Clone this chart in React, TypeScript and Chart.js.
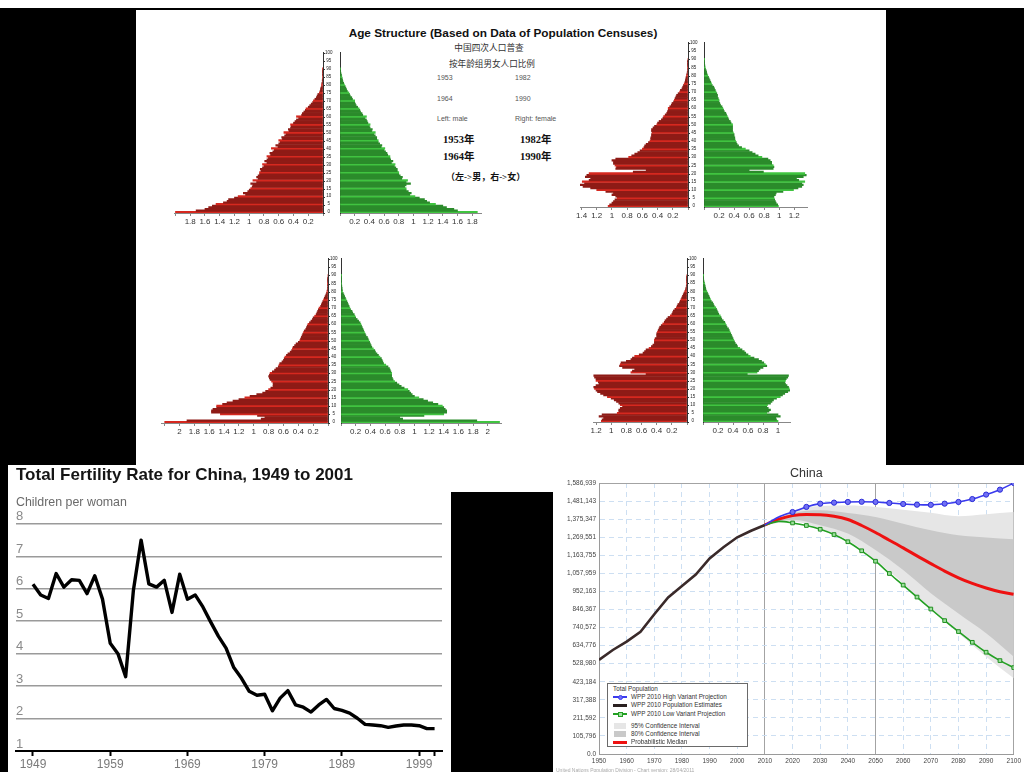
import React, { useEffect, useRef } from "react";
import { Chart, registerables } from "chart.js";

Chart.register(...registerables);

const SANS = '"Liberation Sans", Arial, sans-serif';
const CJK = '"Noto Sans CJK SC", sans-serif';
const SERIF_CJK = '"Liberation Serif", "Noto Sans CJK SC", serif';
Chart.defaults.font.family = SANS;

// ---------- Population pyramids (% of total population per single year of age, ages 0..90) ----------
const AGE_LABELS = Array.from({ length: 101 }, (_, i) => String(i));

const MALE_1953 = [
  2.0, 1.72, 1.6, 1.55, 1.5, 1.45, 1.35, 1.3, 1.28, 1.2,
  1.15, 1.05, 1.08, 1.02, 1.0, 0.98, 0.96, 0.95, 0.98, 0.9,
  0.95, 0.88, 0.9, 0.88, 0.86, 0.86, 0.84, 0.85, 0.82, 0.8,
  0.82, 0.76, 0.79, 0.76, 0.74, 0.76, 0.71, 0.72, 0.68, 0.66,
  0.7, 0.61, 0.64, 0.6, 0.58, 0.6, 0.55, 0.56, 0.52, 0.5,
  0.53, 0.46, 0.47, 0.44, 0.43, 0.44, 0.4, 0.38, 0.36, 0.33,
  0.36, 0.29, 0.28, 0.26, 0.24, 0.23, 0.2, 0.18, 0.16, 0.14,
  0.13, 0.11, 0.09, 0.08, 0.07, 0.05, 0.04, 0.035, 0.03, 0.02,
  0.02, 0.015, 0.01, 0.01, 0.008, 0.006, 0.005, 0.004, 0.003, 0.002, 0.001,
];
const FEMALE_1953 = [
  1.87, 1.6, 1.55, 1.45, 1.4, 1.3, 1.22, 1.18, 1.15, 1.08,
  1.02, 0.95, 0.97, 0.93, 0.9, 0.9, 0.88, 0.9, 0.96, 0.9,
  0.92, 0.84, 0.85, 0.82, 0.8, 0.8, 0.78, 0.78, 0.76, 0.74,
  0.75, 0.7, 0.72, 0.69, 0.68, 0.68, 0.65, 0.64, 0.62, 0.6,
  0.61, 0.56, 0.57, 0.54, 0.52, 0.52, 0.5, 0.5, 0.48, 0.46,
  0.48, 0.43, 0.44, 0.41, 0.4, 0.41, 0.38, 0.37, 0.36, 0.34,
  0.36, 0.31, 0.3, 0.28, 0.27, 0.26, 0.24, 0.22, 0.21, 0.2,
  0.2, 0.17, 0.16, 0.14, 0.13, 0.12, 0.1, 0.09, 0.08, 0.07,
  0.06, 0.05, 0.04, 0.035, 0.03, 0.025, 0.02, 0.015, 0.01, 0.008, 0.005,
];
const MALE_1982 = [
  1.05, 1.03, 1.0, 0.98, 0.96, 0.93, 0.95, 1.0, 0.98, 1.08,
  1.2, 1.28, 1.38, 1.42, 1.36, 1.39, 1.3, 1.28, 1.35, 1.33,
  1.3, 0.72, 0.55, 0.95, 0.94, 0.96, 0.98, 0.98, 1.0, 0.95,
  0.78, 0.74, 0.7, 0.66, 0.63, 0.6, 0.58, 0.57, 0.55, 0.52,
  0.5, 0.49, 0.49, 0.48, 0.48, 0.47, 0.48, 0.48, 0.46, 0.44,
  0.41, 0.4, 0.38, 0.35, 0.33, 0.32, 0.3, 0.28, 0.27, 0.26,
  0.26, 0.24, 0.22, 0.21, 0.19, 0.18, 0.17, 0.16, 0.15, 0.13,
  0.11, 0.1, 0.08, 0.07, 0.06, 0.05, 0.04, 0.035, 0.03, 0.025,
  0.02, 0.015, 0.01, 0.008, 0.006, 0.005, 0.004, 0.003, 0.002, 0.001, 0,
];
const FEMALE_1982 = [
  0.99, 0.98, 0.96, 0.95, 0.94, 0.93, 0.93, 0.95, 0.96, 1.05,
  1.19, 1.25, 1.3, 1.32, 1.3, 1.34, 1.26, 1.23, 1.32, 1.36,
  1.34, 0.79, 0.6, 0.92, 0.93, 0.92, 0.9, 0.9, 0.88, 0.85,
  0.77, 0.72, 0.68, 0.64, 0.6, 0.55, 0.5, 0.46, 0.44, 0.43,
  0.42, 0.41, 0.41, 0.4, 0.4, 0.39, 0.38, 0.38, 0.38, 0.38,
  0.38, 0.36, 0.35, 0.33, 0.32, 0.31, 0.3, 0.29, 0.27, 0.26,
  0.25, 0.24, 0.22, 0.21, 0.2, 0.2, 0.19, 0.18, 0.18, 0.17,
  0.16, 0.15, 0.14, 0.13, 0.11, 0.1, 0.09, 0.08, 0.07, 0.06,
  0.05, 0.04, 0.035, 0.03, 0.02, 0.015, 0.012, 0.009, 0.006, 0.004, 0.002,
];
const MALE_1964 = [
  2.2, 1.9, 0.9, 0.85, 0.95, 1.45, 1.57, 1.57, 1.55, 1.5,
  1.5, 1.42, 1.36, 1.28, 1.2, 1.12, 1.05, 0.96, 0.88, 0.84,
  0.8, 0.77, 0.74, 0.74, 0.74, 0.76, 0.78, 0.79, 0.8, 0.79,
  0.78, 0.75, 0.72, 0.7, 0.67, 0.66, 0.65, 0.62, 0.6, 0.59,
  0.58, 0.56, 0.54, 0.51, 0.49, 0.48, 0.47, 0.45, 0.43, 0.4,
  0.38, 0.37, 0.36, 0.35, 0.34, 0.33, 0.32, 0.3, 0.29, 0.28,
  0.27, 0.25, 0.23, 0.21, 0.2, 0.18, 0.16, 0.15, 0.14, 0.13,
  0.12, 0.1, 0.09, 0.08, 0.07, 0.06, 0.05, 0.04, 0.03, 0.02,
  0.015, 0.01, 0.008, 0.006, 0.005, 0.004, 0.003, 0.002, 0.001, 0, 0,
];
const FEMALE_1964 = [
  2.16, 1.85, 0.84, 0.8, 1.13, 1.4, 1.44, 1.44, 1.42, 1.4,
  1.38, 1.32, 1.25, 1.18, 1.12, 1.06, 1.0, 0.97, 0.95, 0.93,
  0.91, 0.86, 0.82, 0.79, 0.76, 0.73, 0.71, 0.7, 0.69, 0.69,
  0.69, 0.68, 0.67, 0.66, 0.64, 0.61, 0.58, 0.57, 0.56, 0.55,
  0.53, 0.51, 0.49, 0.47, 0.46, 0.44, 0.42, 0.41, 0.4, 0.39,
  0.38, 0.37, 0.36, 0.34, 0.33, 0.32, 0.31, 0.3, 0.29, 0.28,
  0.27, 0.26, 0.24, 0.22, 0.2, 0.19, 0.18, 0.16, 0.15, 0.13,
  0.12, 0.11, 0.1, 0.09, 0.08, 0.07, 0.06, 0.05, 0.04, 0.03,
  0.02, 0.018, 0.015, 0.012, 0.01, 0.008, 0.006, 0.004, 0.003, 0.002, 0.001,
];
const MALE_1990 = [
  1.13, 1.12, 1.1, 1.16, 1.12, 0.92, 0.9, 0.9, 0.88, 0.85,
  0.88, 0.9, 0.93, 0.96, 1.0, 1.05, 1.1, 1.14, 1.18, 1.2,
  1.22, 1.23, 1.2, 1.16, 1.17, 1.2, 1.2, 1.22, 1.23, 0.54,
  0.74, 0.72, 0.69, 0.85, 0.89, 0.88, 0.87, 0.8, 0.74, 0.72,
  0.69, 0.63, 0.58, 0.56, 0.54, 0.5, 0.47, 0.45, 0.43, 0.43,
  0.43, 0.42, 0.4, 0.4, 0.4, 0.39, 0.38, 0.37, 0.36, 0.34,
  0.32, 0.3, 0.29, 0.27, 0.25, 0.22, 0.2, 0.19, 0.18, 0.16,
  0.14, 0.13, 0.12, 0.1, 0.09, 0.08, 0.07, 0.06, 0.05, 0.04,
  0.03, 0.02, 0.015, 0.01, 0.008, 0.006, 0.004, 0.003, 0.002, 0.001, 0,
];
const FEMALE_1990 = [
  1.0, 0.98, 0.97, 1.03, 1.0, 0.85, 0.88, 0.9, 0.87, 0.85,
  0.86, 0.9, 0.92, 0.94, 0.98, 1.03, 1.06, 1.09, 1.13, 1.16,
  1.15, 1.14, 1.12, 1.1, 1.09, 1.1, 1.11, 1.13, 1.14, 0.59,
  0.72, 0.74, 0.76, 0.8, 0.85, 0.83, 0.81, 0.78, 0.74, 0.68,
  0.63, 0.6, 0.57, 0.55, 0.52, 0.49, 0.46, 0.45, 0.43, 0.42,
  0.41, 0.4, 0.39, 0.38, 0.37, 0.36, 0.35, 0.34, 0.32, 0.31,
  0.3, 0.29, 0.27, 0.25, 0.24, 0.23, 0.21, 0.2, 0.19, 0.18,
  0.17, 0.15, 0.14, 0.13, 0.11, 0.1, 0.09, 0.08, 0.07, 0.06,
  0.05, 0.04, 0.035, 0.03, 0.025, 0.02, 0.015, 0.01, 0.007, 0.005, 0.003,
];

// ---------- Total fertility rate ----------
const TFR_YEARS = Array.from({ length: 53 }, (_, i) => 1949 + i);
const TFR_VALUES = [
  6.14, 5.81, 5.7, 6.47, 6.05, 6.28, 6.26, 5.85, 6.4, 5.68,
  4.32, 4.0, 3.29, 5.95, 7.5, 6.15, 6.05, 6.26, 5.27, 6.45,
  5.68, 5.81, 5.44, 4.98, 4.54, 4.17, 3.57, 3.24, 2.84, 2.72,
  2.75, 2.24, 2.63, 2.86, 2.42, 2.35, 2.2, 2.42, 2.59, 2.31,
  2.25, 2.17, 2.01, 1.82, 1.8, 1.78, 1.73, 1.77, 1.8, 1.8,
  1.78, 1.69, 1.69,
];
const TFR_TICKS = [1949, 1959, 1969, 1979, 1989, 1999, 2001];
const TFR_TICK_LABELS = ["1949", "1959", "1969", "1979", "1989", "1999", ""];

// ---------- China total population (thousands) ----------
const EST_YEARS = [1950, 1955, 1960, 1965, 1970, 1975, 1980, 1985, 1990, 1995, 2000, 2005, 2010];
const EST_VALUES = [550771, 609005, 658270, 715185, 818315, 916395, 983171, 1051040, 1145195, 1211213, 1269117, 1307593, 1341335];
const PROJ_YEARS = [2010, 2015, 2020, 2025, 2030, 2035, 2040, 2045, 2050, 2055, 2060, 2065, 2070, 2075, 2080, 2085, 2090, 2095, 2100];
const HIGH_VALUES = [1341335, 1388000, 1417000, 1447000, 1466000, 1472000, 1476000, 1477000, 1476000, 1470000, 1464000, 1460000, 1459000, 1466000, 1476000, 1493000, 1519000, 1548000, 1587000];
const LOW_VALUES = [1341335, 1362000, 1353000, 1338000, 1316000, 1285000, 1243000, 1190000, 1129000, 1057000, 989000, 919000, 849000, 781000, 717000, 654000, 596000, 547000, 506000];
const MEDIAN_VALUES = [1341335, 1375000, 1396000, 1402000, 1401000, 1392000, 1373000, 1338000, 1297000, 1252000, 1207000, 1160000, 1115000, 1071000, 1032000, 999000, 972000, 950000, 935000];
const CI_YEARS = [2010, 2020, 2030, 2040, 2050, 2060, 2070, 2080, 2090, 2100];
const CI95_UPPER = [1341335, 1425000, 1452000, 1455000, 1447000, 1431000, 1412000, 1392000, 1404000, 1417000];
const CI80_UPPER = [1341335, 1410000, 1427000, 1411000, 1388000, 1349000, 1310000, 1281000, 1268000, 1258000];
const CI80_LOWER = [1341335, 1372000, 1340000, 1291000, 1194000, 1077000, 941000, 823000, 707000, 570000];
const CI95_LOWER = [1341335, 1362000, 1320000, 1252000, 1135000, 999000, 843000, 707000, 570000, 443000];
const POP_TICK_LABELS = ["0.0", "105,796", "211,592", "317,388", "423,184", "528,980", "634,776", "740,572", "846,367", "952,163", "1,057,959", "1,163,755", "1,269,551", "1,375,347", "1,481,143", "1,586,939"];

// ---------- layout of pyramids ----------
const PYRAMIDS = [
  { male: MALE_1953, female: FEMALE_1953, zeroM: 323, zeroF: 339, scale: 74, maxM: 2.02, maxF: 1.92, labelMaxM: 1.8, labelMaxF: 1.8, top: 52, bottom: 213 },
  { male: MALE_1982, female: FEMALE_1982, zeroM: 688, zeroF: 703, scale: 76, maxM: 1.42, maxF: 1.37, labelMaxM: 1.4, labelMaxF: 1.2, top: 42, bottom: 207 },
  { male: MALE_1964, female: FEMALE_1964, zeroM: 327, zeroF: 340, scale: 74, maxM: 2.25, maxF: 2.18, labelMaxM: 2.0, labelMaxF: 2.0, top: 258, bottom: 423 },
  { male: MALE_1990, female: FEMALE_1990, zeroM: 687, zeroF: 702, scale: 76, maxM: 1.24, maxF: 1.16, labelMaxM: 1.2, labelMaxF: 1.0, top: 258, bottom: 422 },
];

const RED_DARK = "#8e1b16";
const RED_LIGHT = "#d6281f";
const GREEN_DARK = "#2b8b2b";
const GREEN_LIGHT = "#40c440";
const PAD_SIDE = 12;
const PAD_TOP = 4;
const X_AXIS_H = 14;

function ChartCanvas({ left, top, width, height, make }: any) {
  const ref = useRef<HTMLCanvasElement>(null);
  useEffect(() => {
    const chart = new Chart(ref.current as HTMLCanvasElement, make());
    return () => chart.destroy();
  }, []);
  return (
    <canvas
      ref={ref}
      width={width}
      height={height}
      style={{ position: "absolute", left, top, width, height }}
    />
  );
}

function pyramidHalfConfig(p: any, male: boolean): any {
  const values = male ? p.male : p.female;
  const max = male ? p.maxM : p.maxF;
  const labelMax = male ? p.labelMaxM : p.labelMaxF;
  const gap = p.zeroF - p.zeroM;
  return {
    type: "bar",
    data: {
      labels: AGE_LABELS,
      datasets: [
        {
          data: values,
          backgroundColor: (c: any) =>
            c.dataIndex % 5 === 0 ? (male ? RED_LIGHT : GREEN_LIGHT) : male ? RED_DARK : GREEN_DARK,
          borderWidth: 0,
          barPercentage: 1,
          categoryPercentage: 1,
        },
      ],
    },
    options: {
      indexAxis: "y",
      responsive: false,
      animation: false,
      events: [],
      layout: {
        padding: male
          ? { left: PAD_SIDE, right: 0, top: PAD_TOP, bottom: 0 }
          : { left: 0, right: PAD_SIDE, top: PAD_TOP, bottom: 0 },
      },
      plugins: { legend: { display: false }, tooltip: { enabled: false } },
      scales: {
        x: {
          type: "linear",
          reverse: male,
          min: 0,
          max,
          ticks: {
            stepSize: 0.2,
            includeBounds: false,
            autoSkip: false,
            maxRotation: 0,
            padding: 1,
            color: "#333",
            font: { family: SANS, size: 8 },
            callback: (v: any) => {
              const r = Math.round(Number(v) * 10) / 10;
              return r <= 0 || r > labelMax + 1e-9 ? "" : String(r);
            },
          },
          grid: { drawOnChartArea: false, tickLength: 3, color: "#888" },
          border: { display: true, color: "#888" },
          afterFit: (s: any) => {
            s.height = X_AXIS_H;
          },
        },
        y: {
          type: "category",
          position: male ? "right" : "left",
          reverse: true,
          ticks: male
            ? {
                autoSkip: false,
                padding: 0,
                crossAlign: "center",
                color: "#222",
                font: { family: SANS, size: 4.5 },
                callback: (_v: any, i: number) => (i % 5 === 0 ? AGE_LABELS[i] : ""),
              }
            : { display: false },
          grid: {
            display: male,
            drawOnChartArea: false,
            tickLength: 2,
            color: (c: any) => (c.index % 5 === 0 ? "#333" : "rgba(0,0,0,0)"),
          },
          border: { display: true, color: "#333" },
          afterFit: (s: any) => {
            s.width = male ? gap : 0;
          },
        },
      },
    },
  };
}

function Pyramid({ p }: any) {
  const chartH = p.bottom - p.top;
  const wM = p.maxM * p.scale;
  const wF = p.maxF * p.scale;
  const gap = p.zeroF - p.zeroM;
  const h = PAD_TOP + chartH + X_AXIS_H;
  return (
    <>
      <ChartCanvas
        left={p.zeroM - wM - PAD_SIDE}
        top={p.top - PAD_TOP}
        width={Math.round(PAD_SIDE + wM + gap)}
        height={h}
        make={() => pyramidHalfConfig(p, true)}
      />
      <ChartCanvas
        left={p.zeroF}
        top={p.top - PAD_TOP}
        width={Math.round(wF + PAD_SIDE)}
        height={h}
        make={() => pyramidHalfConfig(p, false)}
      />
    </>
  );
}

function fertilityConfig(): any {
  return {
    type: "line",
    data: {
      datasets: [
        {
          data: TFR_YEARS.map((y, i) => ({ x: y, y: TFR_VALUES[i] })),
          borderColor: "#000",
          borderWidth: 3.4,
          borderJoinStyle: "round",
          pointRadius: 0,
          tension: 0,
        },
      ],
    },
    options: {
      responsive: false,
      animation: false,
      events: [],
      layout: { padding: { left: 8, right: 9, top: 0, bottom: 0 } },
      plugins: {
        legend: { display: false },
        tooltip: { enabled: false },
        title: {
          display: true,
          text: "Total Fertility Rate for China, 1949 to 2001",
          align: "start",
          color: "#151515",
          font: { family: SANS, size: 17, weight: "bold" },
          padding: { top: 0, bottom: 5 },
        },
        subtitle: {
          display: true,
          text: "Children per woman",
          align: "start",
          color: "#6a6a6a",
          font: { family: SANS, size: 12.4 },
          padding: { top: 5.1, bottom: 13.5 },
        },
      },
      scales: {
        x: {
          type: "linear",
          min: 1946.8,
          max: 2001.96,
          afterBuildTicks: (s: any) => {
            s.ticks = TFR_TICKS.map((v) => ({ value: v }));
          },
          ticks: {
            autoSkip: false,
            maxRotation: 0,
            padding: 1,
            color: "#7a7a7a",
            font: { family: SANS, size: 12 },
            callback: (_v: any, i: number) => TFR_TICK_LABELS[i],
          },
          grid: { drawOnChartArea: false, tickLength: 5, tickColor: "#000", tickWidth: 2 },
          border: { display: true, color: "#000", width: 2 },
          afterFit: (s: any) => {
            s.height = 21;
          },
        },
        y: {
          min: 1,
          max: 8,
          ticks: {
            stepSize: 1,
            mirror: true,
            labelOffset: -7,
            padding: 0,
            color: "#8a8a8a",
            font: { family: SANS, size: 13 },
          },
          grid: { color: "#9a9a9a", lineWidth: 1.5, drawTicks: false },
          border: { display: false },
          afterFit: (s: any) => {
            s.width = 0;
          },
        },
      },
    },
  };
}

function isSolidYear(v: any) {
  return v === 2010 || v === 2050 || v === 2100;
}

function populationConfig(): any {
  const line = (xs: number[], ys: number[]) => xs.map((x, i) => ({ x, y: ys[i] }));
  const lastTick = POP_TICK_LABELS.length - 1;
  return {
    type: "line",
    data: {
      datasets: [
        {
          label: "WPP 2010 High Variant Projection",
          data: line(PROJ_YEARS, HIGH_VALUES),
          borderColor: "#3a3aee",
          borderWidth: 1.6,
          pointStyle: "circle",
          pointRadius: (c: any) => (c.dataIndex < 2 ? 0 : 2.6),
          pointBackgroundColor: "#7070f4",
          pointBorderColor: "#2c2cd8",
          pointBorderWidth: 1,
          tension: 0.3,
          order: 1,
        },
        {
          label: "WPP 2010 Population Estimates",
          data: line(EST_YEARS, EST_VALUES),
          borderColor: "#3a2a2a",
          borderWidth: 2.6,
          pointRadius: 0,
          tension: 0,
          order: 1,
        },
        {
          label: "WPP 2010 Low Variant Projection",
          data: line(PROJ_YEARS, LOW_VALUES),
          borderColor: "#23a023",
          borderWidth: 1.6,
          pointStyle: "rect",
          pointRadius: (c: any) => (c.dataIndex < 2 ? 0 : 2.6),
          pointBackgroundColor: "#9ee09e",
          pointBorderColor: "#1f8f1f",
          pointBorderWidth: 1,
          tension: 0.3,
          order: 1,
        },
        {
          label: "Probabilistic Median",
          data: line(PROJ_YEARS, MEDIAN_VALUES),
          borderColor: "#ee1111",
          borderWidth: 3,
          pointRadius: 0,
          cubicInterpolationMode: "monotone",
          order: 3,
        },
        {
          label: "95% Confidence Interval",
          data: line(CI_YEARS, CI95_UPPER),
          borderWidth: 0,
          pointRadius: 0,
          backgroundColor: "#e6e6e6",
          fill: 7,
          cubicInterpolationMode: "monotone",
          order: 10,
        },
        {
          label: "80% Confidence Interval",
          data: line(CI_YEARS, CI80_UPPER),
          borderWidth: 0,
          pointRadius: 0,
          backgroundColor: "#c9c9c9",
          fill: 6,
          cubicInterpolationMode: "monotone",
          order: 9,
        },
        {
          label: "80% lower",
          data: line(CI_YEARS, CI80_LOWER),
          borderWidth: 0,
          pointRadius: 0,
          fill: false,
          cubicInterpolationMode: "monotone",
          order: 9,
        },
        {
          label: "95% lower",
          data: line(CI_YEARS, CI95_LOWER),
          borderWidth: 0,
          pointRadius: 0,
          fill: false,
          cubicInterpolationMode: "monotone",
          order: 10,
        },
      ],
    },
    options: {
      responsive: false,
      animation: false,
      events: [],
      layout: { padding: { left: 0, right: 7, top: 0, bottom: 0 } },
      plugins: {
        legend: { display: false },
        tooltip: { enabled: false },
        title: {
          display: true,
          text: "China",
          fullSize: false,
          color: "#333",
          font: { family: SANS, size: 12.5, weight: "normal" },
          padding: { top: 1, bottom: 2 },
        },
      },
      scales: {
        x: {
          type: "linear",
          min: 1950,
          max: 2100,
          ticks: {
            stepSize: 10,
            autoSkip: false,
            maxRotation: 0,
            padding: 3,
            color: "#444",
            font: { family: SANS, size: 6.5 },
            callback: (v: any) => String(v),
          },
          grid: {
            drawTicks: false,
            lineWidth: 1,
            color: (c: any) => (c.tick && isSolidYear(c.tick.value) ? "#a3a3a3" : "#cddff2"),
          },
          border: {
            display: true,
            color: "#9a9a9a",
            dash: (c: any) => (!c.tick || isSolidYear(c.tick.value) ? [] : [5, 4]),
          },
          afterFit: (s: any) => {
            s.height = 18;
          },
        },
        y: {
          type: "linear",
          min: 0,
          max: Number(POP_TICK_LABELS[lastTick].replace(/,/g, "")),
          afterBuildTicks: (s: any) => {
            s.ticks = POP_TICK_LABELS.map((l) => ({ value: Number(l.replace(/,/g, "")) }));
          },
          ticks: {
            autoSkip: false,
            padding: 3,
            color: "#444",
            font: { family: SANS, size: 6.5 },
            callback: (_v: any, i: number) => POP_TICK_LABELS[i],
          },
          grid: {
            drawTicks: false,
            lineWidth: 1,
            color: (c: any) => (c.index === lastTick ? "#a3a3a3" : "#cddff2"),
          },
          border: {
            display: true,
            color: "#9a9a9a",
            dash: (c: any) => (!c.tick || c.index === lastTick ? [] : [5, 4]),
          },
          afterFit: (s: any) => {
            s.width = 46;
          },
        },
      },
    },
  };
}

function Txt({ x, y, size, children, center, style }: any) {
  return (
    <div
      style={{
        position: "absolute",
        left: x,
        top: y - size * 0.6,
        fontSize: size,
        lineHeight: 1.2,
        whiteSpace: "nowrap",
        transform: center ? "translateX(-50%)" : undefined,
        ...style,
      }}
    >
      {children}
    </div>
  );
}

function LegendRow({ y, symbol, text }: any) {
  return (
    <div style={{ position: "absolute", left: 0, top: y - 4, height: 8, width: 140 }}>
      <div style={{ position: "absolute", left: 5, top: 0, width: 14, height: 8 }}>{symbol}</div>
      <div style={{ position: "absolute", left: 23, top: 0, lineHeight: "8px", fontSize: 6.3, color: "#333", whiteSpace: "nowrap" }}>
        {text}
      </div>
    </div>
  );
}

function LineSym({ color, width, marker, markerColor, square }: any) {
  return (
    <>
      <div style={{ position: "absolute", left: 0, top: 4 - width / 2, width: 14, height: width, background: color }} />
      {marker ? (
        <div
          style={{
            position: "absolute",
            left: 4.5,
            top: 1.5,
            width: 5,
            height: 5,
            boxSizing: "border-box",
            border: `1px solid ${color}`,
            background: markerColor,
            borderRadius: square ? 0 : 3,
          }}
        />
      ) : null}
    </>
  );
}

export default function App() {
  return (
    <div
      style={{
        position: "absolute",
        left: 0,
        top: 0,
        width: 1024,
        height: 772,
        background: "#fff",
        overflow: "hidden",
        fontFamily: SANS,
      }}
    >
      <div style={{ position: "absolute", left: 0, top: 8, width: 1024, height: 764, background: "#000" }} />
      <div style={{ position: "absolute", left: 136, top: 10, width: 750, height: 482, background: "#fff" }} />
      <div style={{ position: "absolute", left: 8, top: 465, width: 443, height: 307, background: "#fff" }} />
      <div style={{ position: "absolute", left: 553, top: 465, width: 471, height: 307, background: "#fff" }} />

      {/* top panel text */}
      <Txt x={503} y={33} size={11.8} center style={{ fontWeight: "bold", color: "#111" }}>
        Age Structure (Based on Data of Population Censuses)
      </Txt>
      <Txt x={489} y={48} size={8.7} center style={{ fontFamily: CJK, color: "#333" }}>
        中国四次人口普查
      </Txt>
      <Txt x={492} y={63} size={8.6} center style={{ fontFamily: CJK, color: "#333" }}>
        按年龄组男女人口比例
      </Txt>
      <Txt x={437} y={78} size={7} style={{ color: "#555" }}>1953</Txt>
      <Txt x={515} y={78} size={7} style={{ color: "#555" }}>1982</Txt>
      <Txt x={437} y={99} size={7} style={{ color: "#555" }}>1964</Txt>
      <Txt x={515} y={99} size={7} style={{ color: "#555" }}>1990</Txt>
      <Txt x={437} y={119} size={7} style={{ color: "#555" }}>Left: male</Txt>
      <Txt x={515} y={119} size={7} style={{ color: "#555" }}>Right: female</Txt>
      <Txt x={443} y={140} size={10.5} style={{ fontFamily: SERIF_CJK, fontWeight: "bold", color: "#111" }}>1953年</Txt>
      <Txt x={520} y={140} size={10.5} style={{ fontFamily: SERIF_CJK, fontWeight: "bold", color: "#111" }}>1982年</Txt>
      <Txt x={443} y={157} size={10.5} style={{ fontFamily: SERIF_CJK, fontWeight: "bold", color: "#111" }}>1964年</Txt>
      <Txt x={520} y={157} size={10.5} style={{ fontFamily: SERIF_CJK, fontWeight: "bold", color: "#111" }}>1990年</Txt>
      <Txt x={446} y={177} size={9} style={{ fontFamily: SERIF_CJK, fontWeight: "bold", color: "#111" }}>（左-&gt;男，右-&gt;女）</Txt>

      {PYRAMIDS.map((p, i) => (
        <Pyramid key={i} p={p} />
      ))}

      <ChartCanvas left={8} top={465} width={443} height={307} make={fertilityConfig} />
      <ChartCanvas left={553} top={465} width={471} height={307} make={populationConfig} />

      {/* population legend */}
      <div
        style={{
          position: "absolute",
          left: 607,
          top: 683,
          width: 141,
          height: 64,
          boxSizing: "border-box",
          border: "1px solid #6a6a6a",
          background: "#fff",
        }}
      >
        <div style={{ position: "absolute", left: 5, top: 1, fontSize: 6.3, lineHeight: "8px", color: "#333" }}>Total Population</div>
        <LegendRow y={13} text="WPP 2010 High Variant Projection" symbol={<LineSym color="#3a3aee" width={1.5} marker markerColor="#7070f4" />} />
        <LegendRow y={21} text="WPP 2010 Population Estimates" symbol={<LineSym color="#2a2020" width={3} />} />
        <LegendRow y={30} text="WPP 2010 Low Variant Projection" symbol={<LineSym color="#23a023" width={1.5} marker markerColor="#9ee09e" square />} />
        <LegendRow y={42} text="95% Confidence Interval" symbol={<div style={{ position: "absolute", left: 1, top: 1, width: 12, height: 6, background: "#e6e6e6" }} />} />
        <LegendRow y={50} text="80% Confidence Interval" symbol={<div style={{ position: "absolute", left: 1, top: 1, width: 12, height: 6, background: "#c9c9c9" }} />} />
        <LegendRow y={58} text="Probabilistic Median" symbol={<LineSym color="#ee1111" width={3} />} />
      </div>
      <Txt x={556} y={770} size={5} style={{ color: "#aaa" }}>
        United Nations Population Division - Chart version: 28/04/2011
      </Txt>
    </div>
  );
}
